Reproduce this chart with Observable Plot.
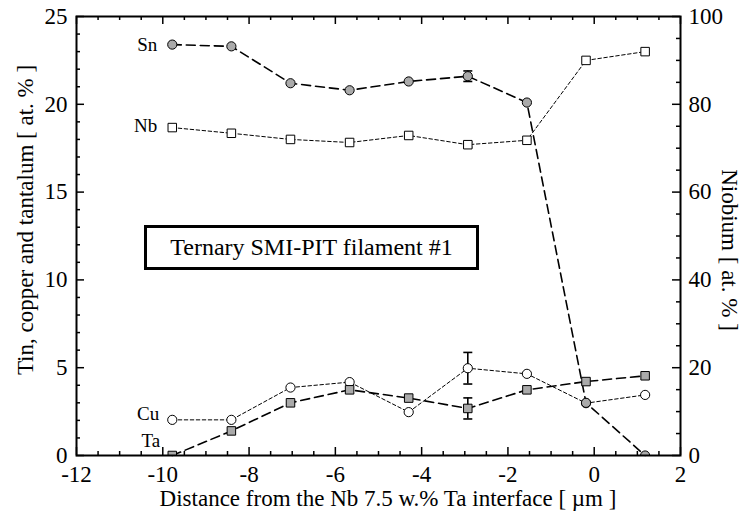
<!DOCTYPE html>
<html><head><meta charset="utf-8">
<script src="https://cdn.jsdelivr.net/npm/d3@7"></script>
<script src="https://cdn.jsdelivr.net/npm/@observablehq/plot@0.6"></script>
<style>
body{margin:0;background:#fff;}
#wrap{position:relative;width:743px;height:520px;font-family:"Liberation Serif","DejaVu Serif",serif;color:#000}
#box{position:absolute;left:144px;top:225px;width:335px;height:45px;box-sizing:border-box;border:3px solid #000;font-size:24px;display:flex;align-items:center;justify-content:center;background:#fff}
.ttl{position:absolute;font-size:23px;line-height:23px;white-space:nowrap}
#xt{left:388px;top:487px;transform:translateX(-50%)}
#yl{left:25px;top:220px;transform:translate(-50%,-50%) rotate(-90deg)}
#yr{left:729px;top:250px;transform:translate(-50%,-50%) rotate(90deg)}
</style></head><body><div id="wrap"><div id="box"></div><div class="ttl" id="xt"></div><div class="ttl" id="yl"></div><div class="ttl" id="yr"></div></div>
<script>
// Data
const distance = [-9.78, -8.41, -7.04, -5.67, -4.30, -2.93, -1.56, -0.19, 1.18];
const tin      = [23.4, 23.3, 21.2, 20.8, 21.3, 21.6, 20.1, 3.0, 0];
const niobium  = [74.7, 73.4, 72.0, 71.3, 72.9, 70.8, 71.8, 90.0, 92.0]; // right axis
const copper   = [2.03, 2.03, 3.87, 4.18, 2.47, 4.97, 4.65, 2.98, 3.45];
const tantalum = [0, 1.4, 3.0, 3.74, 3.27, 2.68, 3.74, 4.21, 4.54];
const tinErr      = [0, 0, 0, 0, 0, 0.3, 0, 0, 0];
const niobiumErr  = [0, 0, 0, 0, 0, 0.6, 0, 0, 0];
const copperErr   = [0, 0, 0, 0, 0, 0.9, 0, 0, 0];
const tantalumErr = [0, 0, 0, 0, 0, 0.6, 0, 0, 0];
const seriesLabels = ["Sn", "Nb", "Cu", "Ta"];
const xTicks = [-12, -10, -8, -6, -4, -2, 0, 2];
const yLeftTicks = [0, 5, 10, 15, 20, 25];
const yRightTicks = [0, 20, 40, 60, 80, 100];
const xLabel = "Distance from the Nb 7.5 w.% Ta interface [ \u00b5m ]";
const yLeftLabel = "Tin, copper and tantalum [ at. % ]";
const yRightLabel = "Niobium [ at. % ]";
const boxLabel = "Ternary SMI-PIT filament #1";

document.getElementById("box").textContent = boxLabel;
document.getElementById("xt").textContent = xLabel;
document.getElementById("yl").textContent = yLeftLabel;
document.getElementById("yr").textContent = yRightLabel;

const W = 743, H = 520, mL = 76, mR = 63, mT = 16, mB = 65;
const fw = W - mL - mR, fh = H - mT - mB;
const NB_SCALE = 4; // 100 on right axis = 25 on left

const rows = distance.map((x, i) => ({
  x, sn: tin[i], nb: niobium[i] / NB_SCALE, cu: copper[i], ta: tantalum[i],
  snE: tinErr[i], nbE: niobiumErr[i] / NB_SCALE, cuE: copperErr[i], taE: tantalumErr[i]
}));
const errRows = [];
rows.forEach(d => {
  [["sn","snE"],["nb","nbE"],["cu","cuE"],["ta","taE"]].forEach(([k,e]) => {
    if (d[e] > 0) errRows.push({x: d.x, lo: d[k] - d[e], hi: d[k] + d[e]});
  });
});
const capSymbol = {draw(ctx, size){ const w = Math.sqrt(size / Math.PI); ctx.moveTo(-w, 0); ctx.lineTo(w, 0); }};

const xMinor = d3.range(-12, 2.001, 0.5).filter(v => !xTicks.includes(v));
const yMinor = d3.range(0, 25.001, 1).filter(v => !yLeftTicks.includes(v));
const rMajor = yRightTicks.map(v => v / NB_SCALE);
const rMinor = d3.range(0, 100.001, 5).filter(v => !yRightTicks.includes(v)).map(v => v / NB_SCALE);

const gray = "#aaaaaa";
const dashed = "9,5", dotted = "3.5,2.5";
const font = '"Liberation Serif","DejaVu Serif",serif';

const chart = Plot.plot({
  width: W, height: H,
  marginLeft: mL, marginRight: mR, marginTop: mT, marginBottom: mB,
  style: {fontFamily: font, fontSize: "23px", color: "#000", background: "transparent"},
  x: {domain: [-12, 2]},
  y: {domain: [0, 25]},
  marks: [
    Plot.tickX(xTicks, {x: d => d, insetTop: fh - 8, strokeWidth: 1.5}),
    Plot.tickX(xTicks, {x: d => d, insetBottom: fh - 8, strokeWidth: 1.5}),
    Plot.tickX(xMinor, {x: d => d, insetTop: fh - 4, strokeWidth: 1.5}),
    Plot.tickX(xMinor, {x: d => d, insetBottom: fh - 4, strokeWidth: 1.5}),
    Plot.tickY(yLeftTicks, {y: d => d, insetRight: fw - 8, strokeWidth: 1.5}),
    Plot.tickY(yMinor, {y: d => d, insetRight: fw - 4, strokeWidth: 1.5}),
    Plot.tickY(rMajor, {y: d => d, insetLeft: fw - 8, strokeWidth: 1.5}),
    Plot.tickY(rMinor, {y: d => d, insetLeft: fw - 4, strokeWidth: 1.5}),
    Plot.axisX({ticks: xTicks, tickSize: 0, tickPadding: 10, tickFormat: d => String(d), label: null}),
    Plot.axisY({anchor: "left", ticks: yLeftTicks, tickSize: 0, tickPadding: 9, tickFormat: d => String(d), label: null}),
    Plot.axisY({anchor: "right", ticks: rMajor, tickSize: 0, tickPadding: 8, tickFormat: d => String(Math.round(d * NB_SCALE)), label: null}),
    Plot.line(rows, {x: "x", y: "nb", stroke: "black", strokeWidth: 1, strokeDasharray: dotted}),
    Plot.line(rows, {x: "x", y: "cu", stroke: "black", strokeWidth: 1, strokeDasharray: dotted}),
    Plot.line(rows, {x: "x", y: "sn", stroke: "black", strokeWidth: 1.6, strokeDasharray: dashed}),
    Plot.line(rows, {x: "x", y: "ta", stroke: "black", strokeWidth: 1.6, strokeDasharray: dashed}),
    Plot.ruleX(errRows, {x: "x", y1: "lo", y2: "hi", stroke: "black", strokeWidth: 1.6}),
    Plot.dot(errRows, {x: "x", y: "lo", symbol: capSymbol, r: 4.5, fill: "none", stroke: "black", strokeWidth: 1.6}),
    Plot.dot(errRows, {x: "x", y: "hi", symbol: capSymbol, r: 4.5, fill: "none", stroke: "black", strokeWidth: 1.6}),
    Plot.dot(rows, {x: "x", y: "nb", symbol: "square", r: 4.8, fill: "white", stroke: "black", strokeWidth: 1, clip: "frame"}),
    Plot.dot(rows, {x: "x", y: "cu", symbol: "circle", r: 4.6, fill: "white", stroke: "black", strokeWidth: 1, clip: "frame"}),
    Plot.dot(rows, {x: "x", y: "sn", symbol: "circle", r: 4.6, fill: gray, stroke: "black", strokeWidth: 1, clip: "frame"}),
    Plot.dot(rows, {x: "x", y: "ta", symbol: "square", r: 4.8, fill: gray, stroke: "black", strokeWidth: 1, clip: "frame"}),
    Plot.text([rows[0]], {x: "x", y: "sn", text: () => seriesLabels[0], textAnchor: "end", dx: -15, fontSize: 19}),
    Plot.text([rows[0]], {x: "x", y: "nb", text: () => seriesLabels[1], textAnchor: "end", dx: -15, dy: -2, fontSize: 19}),
    Plot.text([rows[0]], {x: "x", y: "cu", text: () => seriesLabels[2], textAnchor: "end", dx: -13, dy: -6, fontSize: 19}),
    Plot.text([rows[0]], {x: "x", y: "ta", text: () => seriesLabels[3], textAnchor: "end", dx: -12, dy: -15, fontSize: 19}),
    Plot.frame({stroke: "black", strokeWidth: 2})
  ]
});
const wrap = document.getElementById("wrap");
wrap.prepend(chart);
chart.style.position = "absolute"; chart.style.left = "0"; chart.style.top = "0";
d3.select(chart).selectAll("text").style("font-family", font);
d3.select(chart).selectAll("g[aria-label$='tick label'] text").style("font-size", "23px");
</script>
</body></html>
